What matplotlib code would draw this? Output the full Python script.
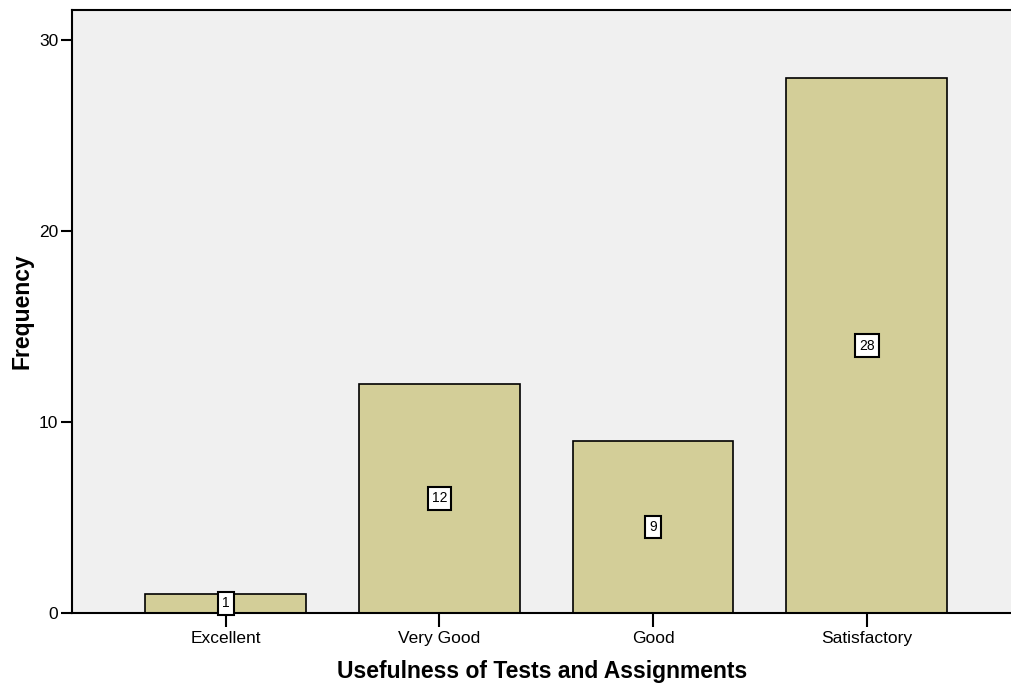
import matplotlib.pyplot as plt

plt.rcParams['font.family'] = ['Liberation Sans', 'DejaVu Sans']

categories = ['Excellent', 'Very Good', 'Good', 'Satisfactory']
counts = [1, 12, 9, 28]
yticks = [0, 10, 20, 30]

fig = plt.figure(figsize=(10.12, 6.89), dpi=100)
ax = fig.add_axes([72 / 1012, 1 - 613 / 689, 940 / 1012, 603 / 689])
ax.set_facecolor('#F0F0F0')

pos = list(range(len(categories)))
ax.bar(pos, counts, width=0.752, color='#D3CE98', edgecolor='black', linewidth=1.2, zorder=2)

for x, v in zip(pos, counts):
    ax.text(x, v / 2, str(v), ha='center', va='center', fontsize=10, zorder=3,
            bbox=dict(boxstyle='square,pad=0.3', facecolor='white', edgecolor='black', linewidth=1.5))

ax.set_xlim(-0.72, 3.68)
ax.set_ylim(0, 31.57)
ax.set_xticks(pos)
ax.set_xticklabels(categories, fontsize=12.5)
ax.set_yticks(yticks)
ax.tick_params(axis='y', labelsize=12.5, length=8, width=1.5, pad=2)
ax.tick_params(axis='x', length=10, width=1.5, pad=3)

for s in ['left', 'top', 'bottom']:
    ax.spines[s].set_linewidth(1.5)
ax.spines['right'].set_visible(False)

ax.set_xlabel('Usefulness of Tests and Assignments', fontsize=16.5, fontweight='bold', labelpad=10)
ax.set_ylabel('Frequency', fontsize=16.5, fontweight='bold', labelpad=4)

plt.savefig('out.png', dpi=100)
